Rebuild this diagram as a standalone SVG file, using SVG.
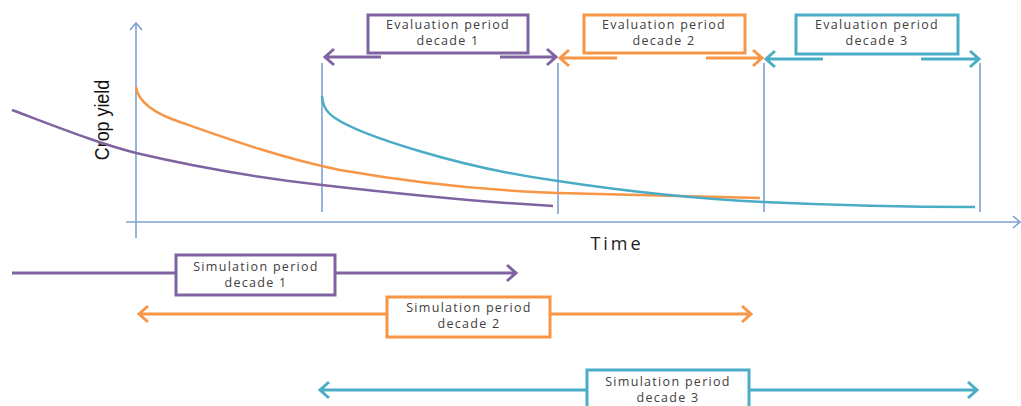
<svg xmlns="http://www.w3.org/2000/svg" width="1021" height="406" viewBox="0 0 1021 406">
<style>
.ax{stroke:#7fa0d2;stroke-width:1.6;fill:none}
.box{fill:#fff;stroke-width:3}
.lbl{font-family:"Open Sans","Liberation Sans",sans-serif;font-size:12.5px;letter-spacing:1.3px;fill:#404040;text-anchor:middle}
.pu{stroke:#8064a2}
.or{stroke:#f79646}
.te{stroke:#4bacc6}
.arr{stroke-width:3;fill:none}
.crv{stroke-width:2.5;fill:none}
</style>
<rect width="1021" height="406" fill="#fff"/>
<g id="axes">
<line class="ax" x1="136" y1="23" x2="136" y2="238"/>
<polyline class="ax" points="130,30 136,23 142,30"/>
<line class="ax" x1="126" y1="222" x2="1020" y2="222"/>
<polyline class="ax" points="1013,216 1020,222 1013,228"/>
<line class="ax" x1="322" y1="63" x2="322" y2="212"/>
<line class="ax" x1="558" y1="63" x2="558" y2="214"/>
<line class="ax" x1="764" y1="63" x2="764" y2="212"/>
<line class="ax" x1="980" y1="63" x2="980" y2="212"/>
<text x="0" y="0" transform="translate(109,120) rotate(-90) scale(0.85,1)" font-family="Liberation Sans,Arial,sans-serif" font-size="21" fill="#111" text-anchor="middle">Crop yield</text>
<text x="617" y="250" font-family="Open Sans,Liberation Sans,sans-serif" font-size="18" letter-spacing="3" fill="#222" text-anchor="middle">Time</text>
</g>
<g id="curves">
<path class="crv pu" d="M12,110 C60,128 100,144 136,153 C200,168 260,178 322,185 C400,194 480,202 553,206"/>
<path class="crv or" d="M136,87 C138,100 150,112 180,122 C220,136 280,158 340,170 C420,184 500,191 558,193 C640,195 700,197 760,198"/>
<path class="crv te" d="M322,96 C323,106 326,112 335,118 C360,135 460,168 558,181 C630,192 700,199 764,202 C850,206 920,207 975,207"/>
</g>
<g id="connectors">
<path class="arr pu" d="M381,57 H325 M334,49 L325,57 L334,65"/>
<path class="arr pu" d="M500,57 H556 M547,49 L556,57 L547,65"/>
<path class="arr or" d="M617,58 H560 M569,50 L560,58 L569,66"/>
<path class="arr or" d="M706,58 H762 M753,50 L762,58 L753,66"/>
<path class="arr te" d="M823,59 H766 M775,51 L766,59 L775,67"/>
<path class="arr te" d="M921,59 H979 M970,51 L979,59 L970,67"/>
<path class="arr pu" d="M12,273 H176"/>
<path class="arr pu" d="M335,273 H516 M507,265 L516,273 L507,281"/>
<path class="arr or" d="M387,314 H139 M148,306 L139,314 L148,322"/>
<path class="arr or" d="M550,314 H751 M742,306 L751,314 L742,322"/>
<path class="arr te" d="M587,390 H320 M329,382 L320,390 L329,398"/>
<path class="arr te" d="M749,390 H977 M968,382 L977,390 L968,398"/>
</g>
<g id="eval1">
<rect class="box pu" x="368" y="15" width="160" height="38"/>
<text class="lbl" x="448" y="29">Evaluation period</text>
<text class="lbl" x="448" y="45">decade 1</text>
</g>
<g id="eval2">
<rect class="box or" x="584" y="15" width="161" height="38"/>
<text class="lbl" x="664" y="29">Evaluation period</text>
<text class="lbl" x="664" y="45">decade 2</text>
</g>
<g id="eval3">
<rect class="box te" x="796" y="15" width="162" height="39"/>
<text class="lbl" x="877" y="29">Evaluation period</text>
<text class="lbl" x="877" y="45">decade 3</text>
</g>
<g id="sim1">
<rect class="box pu" x="176" y="255" width="159" height="40"/>
<text class="lbl" x="256" y="271">Simulation period</text>
<text class="lbl" x="256" y="287">decade 1</text>
</g>
<g id="sim2">
<rect class="box or" x="387" y="297" width="163" height="40"/>
<text class="lbl" x="469" y="312">Simulation period</text>
<text class="lbl" x="469" y="328">decade 2</text>
</g>
<g id="sim3">
<rect class="box te" x="587" y="370" width="162" height="40"/>
<text class="lbl" x="668" y="386">Simulation period</text>
<text class="lbl" x="668" y="402">decade 3</text>
</g>
</svg>
